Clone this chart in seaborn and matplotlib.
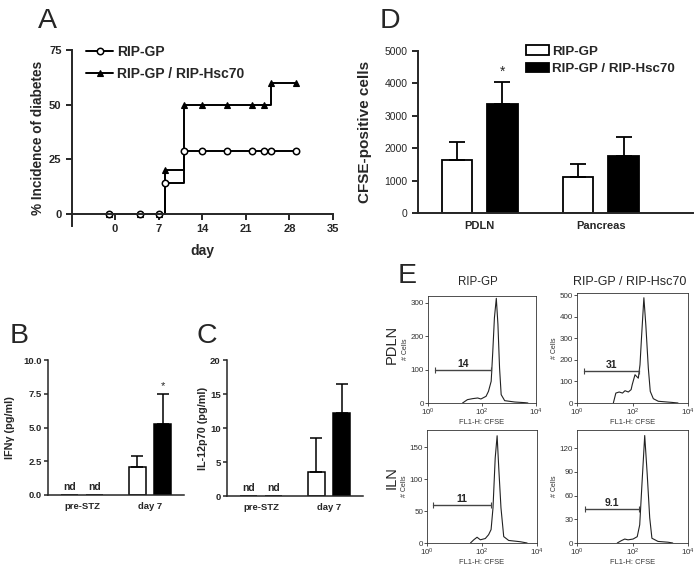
import numpy as np
import pandas as pd
import matplotlib
matplotlib.use('Agg')
import matplotlib.pyplot as plt
from matplotlib.patches import Patch
import seaborn as sns

# ---- panel A : incidence of diabetes (%)
days = [-1, 4, 7, 8, 11, 14, 18, 22, 24, 25, 29]
inc_gp = [0, 0, 0, 14, 29, 29, 29, 29, 29, 29, 29]
inc_hsc = [0, 0, 0, 20, 50, 50, 50, 50, 50, 60, 60]

genotypes = ['RIP-GP', 'RIP-GP / RIP-Hsc70']

# ---- panel D : CFSE-positive cells
d_sites = ['PDLN', 'Pancreas']
d_gp = [1650, 1100]
d_gp_err = [550, 400]
d_hsc = [3370, 1750]
d_hsc_err = [660, 600]

# ---- panels B / C : cytokines
bc_groups = ['pre-STZ', 'day 7']
ifng_gp = [0, 2.1]
ifng_gp_err = [0, 0.8]
ifng_hsc = [0, 5.25]
ifng_hsc_err = [0, 2.2]
il12_gp = [0, 3.6]
il12_gp_err = [0, 5.0]
il12_hsc = [0, 12.2]
il12_hsc_err = [0, 4.3]

# ---- panel E : CFSE histograms (log10 FL1-H, # cells)
e_pdln_gp_x = [1.28, 1.46, 1.65, 1.84, 1.96, 2.15, 2.24, 2.34, 2.40, 2.46, 2.53, 2.59, 2.65, 2.71, 2.84, 3.21, 3.59, 3.70]
e_pdln_gp_y = [0, 10, 13, 15, 12, 20, 35, 65, 155, 255, 313, 235, 105, 25, 7, 3, 1, 0]
e_pdln_hsc_x = [1.31, 1.40, 1.52, 1.64, 1.73, 1.85, 1.95, 1.99, 2.09, 2.15, 2.21, 2.27, 2.33, 2.41, 2.48, 2.57, 2.64, 2.75, 2.93, 3.40, 3.64]
e_pdln_hsc_y = [0, 46, 51, 46, 57, 51, 62, 85, 131, 123, 115, 177, 315, 488, 362, 162, 54, 20, 8, 3, 0]
e_iln_gp_x = [1.58, 1.70, 1.82, 1.94, 2.12, 2.24, 2.33, 2.40, 2.48, 2.55, 2.61, 2.69, 2.79, 2.97, 3.39, 3.64]
e_iln_gp_y = [0, 5, 9, 5, 7, 13, 21, 55, 133, 168, 117, 55, 10, 4, 2, 0]
e_iln_hsc_x = [1.45, 1.60, 1.72, 1.84, 2.02, 2.17, 2.26, 2.34, 2.44, 2.53, 2.62, 2.70, 2.92, 3.28, 3.45]
e_iln_hsc_y = [0, 3, 5, 4, 5, 8, 23, 74, 136, 87, 32, 6, 2, 1, 0]
# gate: start, end (log10), height, label
e_gates = [(0.25, 2.34, 100, '14'), (0.27, 2.23, 150, '31'),
           (0.22, 2.33, 59, '11'), (0.28, 2.23, 43, '9.1')]
e_ymax = [320, 510, 177, 143]
e_yticks = [[0, 100, 200, 300], [0, 100, 200, 300, 400, 500],
            [0, 50, 100, 150], [0, 30, 60, 90, 120]]

sns.set_style('ticks')
plt.rcParams['font.family'] = ['Liberation Sans', 'DejaVu Sans']
plt.rcParams['axes.linewidth'] = 1.4

W, H = 700, 566
fig = plt.figure(figsize=(W / 100, H / 100), dpi=100)


def box(l, t, r, b):
    return [l / W, 1 - b / H, (r - l) / W, (b - t) / H]


# ================= A
axA = fig.add_axes(box(72, 50, 333, 226))
sns.lineplot(x=days, y=inc_hsc, drawstyle='steps-post', color='black', lw=1.4,
             marker='^', markersize=5, markerfacecolor='black', markeredgecolor='black',
             markeredgewidth=0.8, label=genotypes[1], ax=axA)
sns.lineplot(x=days, y=inc_gp, drawstyle='steps-post', color='black', lw=1.4,
             marker='o', markersize=4.6, markerfacecolor='white', markeredgecolor='black',
             markeredgewidth=1.1, label=genotypes[0], ax=axA)
axA.set_xlim(-6.9, 35)
axA.set_ylim(-5.5, 75)
axA.set_xticks([0, 7, 14, 21, 28, 35])
axA.set_yticks([0, 25, 50, 75])
sns.despine(ax=axA)
axA.spines['bottom'].set_position(('data', 0))
axA.tick_params(axis='both', labelsize=8, width=1.4, length=4)
for t in axA.get_xticklabels() + axA.get_yticklabels():
    t.set_fontweight('bold')
axA.set_xlabel('day', fontsize=10, fontweight='bold')
axA.set_ylabel('% Incidence of diabetes', fontsize=9.8, fontweight='bold')
axA.xaxis.set_label_coords(0.5, -0.105)
axA.yaxis.set_label_coords(-0.103, 0.5)
h, l = axA.get_legend_handles_labels()
axA.legend(h[::-1], l[::-1], loc='upper left', bbox_to_anchor=(0.033, 1.06), frameon=False,
           prop={'weight': 'bold', 'size': 10}, handlelength=1.95, handletextpad=0.3,
           labelspacing=0.58, borderaxespad=0)


def bars(ax, cats, v1, e1, v2, e2, capsize, lw):
    df = pd.DataFrame({'cat': cats * 2,
                       'geno': [genotypes[0]] * len(cats) + [genotypes[1]] * len(cats),
                       'val': list(v1) + list(v2)})
    sns.barplot(data=df, x='cat', y='val', hue='geno', hue_order=genotypes,
                palette={genotypes[0]: 'white', genotypes[1]: 'black'}, saturation=1,
                edgecolor='black', linewidth=lw, width=0.75, gap=0.33, errorbar=None,
                legend=False, ax=ax)
    bar_sets = list(ax.containers[:2])
    for cont, errs in zip(bar_sets, [e1, e2]):
        for bar, err in zip(cont, errs):
            if err > 0:
                x = bar.get_x() + bar.get_width() / 2
                ax.errorbar(x, bar.get_height(), yerr=[[0], [err]], color='black',
                            lw=lw, capsize=capsize, capthick=lw, zorder=1)
    sns.despine(ax=ax)
    ax.set_xlabel('')
    return bar_sets


# ================= D
axD = fig.add_axes(box(418, 51, 693, 213))
d_bars = bars(axD, d_sites, d_gp, d_gp_err, d_hsc, d_hsc_err, 6, 1.3)
axD.set_xlim(-0.51, 1.76)
axD.set_ylim(0, 5000)
axD.set_yticks(range(0, 5001, 1000))
axD.tick_params(axis='y', labelsize=7.5, width=1.4, length=4)
axD.tick_params(axis='x', labelsize=8, length=0, pad=6)
for t in axD.get_xticklabels():
    t.set_fontweight('bold')
axD.set_ylabel('CFSE-positive cells', fontsize=11, fontweight='bold')
axD.yaxis.set_label_coords(-0.167, 0.5)
hsc_bar = d_bars[1][0]
axD.text(hsc_bar.get_x() + hsc_bar.get_width() / 2, 4350, '*', ha='center', va='center',
         fontsize=10)
axD.legend([Patch(facecolor='white', edgecolor='black', lw=1.3),
            Patch(facecolor='black', edgecolor='black', lw=1.3)], genotypes,
           loc='upper left', bbox_to_anchor=(0.374, 1.068), frameon=False,
           prop={'weight': 'bold', 'size': 9.6}, handlelength=1.73, handleheight=0.75,
           handletextpad=0.2, labelspacing=0.35, borderaxespad=0)

# ================= B and C
axB = fig.add_axes(box(48, 360, 184, 495))
b_bars = bars(axB, bc_groups, ifng_gp, ifng_gp_err, ifng_hsc, ifng_hsc_err, 4.3, 1.1)
axB.set_ylim(0, 10)
axB.set_yticks([0, 2.5, 5, 7.5, 10])
axB.set_yticklabels(['0.0', '2.5', '5.0', '7.5', '10.0'])
axB.set_ylabel('IFNγ (pg/ml)', fontsize=7.8, fontweight='bold')
axB.yaxis.set_label_coords(-0.243, 0.5)
bb = b_bars[1][1]
axB.text(bb.get_x() + bb.get_width() / 2, 8.1, '*', ha='center', va='center', fontsize=8)

axC = fig.add_axes(box(227, 360, 363, 496))
c_bars = bars(axC, bc_groups, il12_gp, il12_gp_err, il12_hsc, il12_hsc_err, 4.3, 1.1)
axC.set_ylim(0, 20)
axC.set_yticks([0, 5, 10, 15, 20])
axC.set_ylabel('IL-12p70 (pg/ml)', fontsize=7.8, fontweight='bold')
axC.yaxis.set_label_coords(-0.14, 0.5)

for ax, bs in ((axB, b_bars), (axC, c_bars)):
    ax.set_xlim(-0.5, 1.5)
    ax.spines['left'].set_linewidth(1.1)
    ax.spines['bottom'].set_linewidth(1.1)
    ax.tick_params(axis='y', labelsize=6.8, width=1.1, length=3, pad=1.5)
    ax.tick_params(axis='x', labelsize=6.8, length=0, pad=5)
    for t in ax.get_xticklabels() + ax.get_yticklabels():
        t.set_fontweight('bold')
    for cont in bs:
        b0 = cont[0]
        ax.text(b0.get_x() + b0.get_width() / 2, 0.02, 'nd', transform=ax.get_xaxis_transform(),
                ha='center', va='bottom', fontsize=7.5, fontweight='bold')

# ================= E
e_boxes = [box(428, 296, 536, 403), box(577, 293, 688, 403),
           box(427, 430, 537, 543), box(577, 430, 688, 543)]
e_x = [e_pdln_gp_x, e_pdln_hsc_x, e_iln_gp_x, e_iln_hsc_x]
e_y = [e_pdln_gp_y, e_pdln_hsc_y, e_iln_gp_y, e_iln_hsc_y]
gray = '#333333'
for i in range(4):
    ax = fig.add_axes(e_boxes[i])
    sns.lineplot(x=10 ** np.array(e_x[i]), y=e_y[i], color='#222222', lw=0.8, ax=ax)
    ax.set_xscale('log')
    ax.set_xlim(1, 1e4)
    ax.set_ylim(0, e_ymax[i])
    ax.set_yticks(e_yticks[i])
    for s in ax.spines.values():
        s.set_linewidth(0.6)
        s.set_color(gray)
    ax.tick_params(axis='both', which='major', labelsize=5.8, width=0.6, length=2,
                   color=gray, labelcolor=gray, pad=0.8)
    ax.tick_params(axis='x', which='minor', width=0.4, length=1.3, color=gray)
    ax.set_ylabel('# Cells', fontsize=5, color=gray, labelpad=1)
    ax.set_xlabel('FL1-H: CFSE', fontsize=5.4, color=gray, labelpad=0.5)
    g0, g1, gh, gl = e_gates[i]
    ax.plot([10 ** g0, 10 ** g1], [gh, gh], color='#444444', lw=1.0, marker='|',
            markersize=4, markeredgewidth=0.8)
    ax.text(10 ** ((g0 + g1) / 2), gh * 1.03, gl, ha='center', va='bottom',
            fontsize=7.5, fontweight='bold')

fig.text(478 / W, 1 - 282 / H, 'RIP-GP', ha='center', va='center', fontsize=8.3)
fig.text(630 / W, 1 - 282 / H, 'RIP-GP / RIP-Hsc70', ha='center', va='center', fontsize=9)
fig.text(392 / W, 1 - 344 / H, 'PDLN', ha='center', va='center', rotation=90, fontsize=10.5)
fig.text(392 / W, 1 - 478 / H, 'ILN', ha='center', va='center', rotation=90, fontsize=10.5)

# panel letters
for letter, (lx, ly) in zip('ADBCE', [(38, 28), (380, 28), (10, 343), (196, 343), (398, 283)]):
    fig.text(lx / W, 1 - ly / H, letter, ha='left', va='baseline', fontsize=20.5)

fig.savefig('out.png', dpi=100)
